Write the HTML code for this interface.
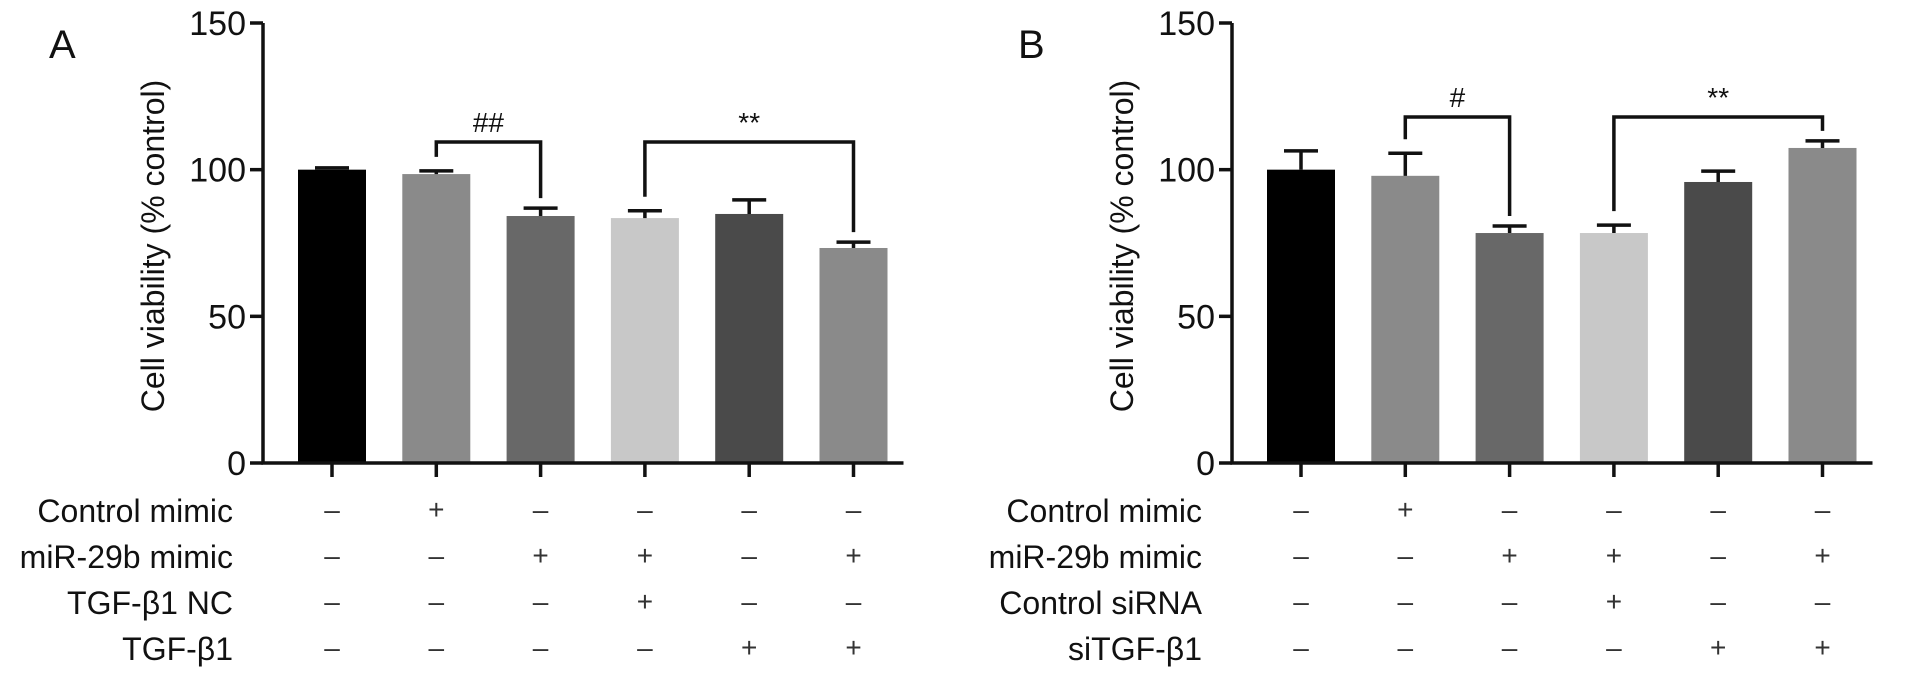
<!DOCTYPE html>
<html><head><meta charset="utf-8"><style>
html,body{margin:0;padding:0;background:#fff;}
svg{display:block;font-family:"Liberation Sans",Arial,sans-serif;}
</style></head><body>
<svg id="fig" width="1913" height="677" viewBox="0 0 1913 677" xmlns="http://www.w3.org/2000/svg"></svg>
<script>
const valuesA = [100, 98.5, 84.2, 83.5, 84.9, 73.3];
const errorsA = [0.6, 1.1, 2.7, 2.5, 4.8, 2.0];
const valuesB = [100, 97.9, 78.4, 78.4, 95.8, 107.4];
const errorsB = [6.4, 7.7, 2.4, 2.7, 3.7, 2.4];
const colors = ['#000000', '#8a8a8a', '#686868', '#c8c8c8', '#4a4a4a', '#8a8a8a'];
const yTicks = [0, 50, 100, 150];
const rowLabelsA = ['Control mimic', 'miR-29b mimic', 'TGF-\u03b21 NC', 'TGF-\u03b21'];
const rowLabelsB = ['Control mimic', 'miR-29b mimic', 'Control siRNA', 'siTGF-\u03b21'];
const rowSigns = [
  ['-', '+', '-', '-', '-', '-'],
  ['-', '-', '+', '+', '-', '+'],
  ['-', '-', '-', '+', '-', '-'],
  ['-', '-', '-', '-', '+', '+']
];
const sigA = [{from:1, to:2, text:'##'}, {from:3, to:5, text:'**'}];
const sigB = [{from:1, to:2, text:'#'}, {from:3, to:5, text:'**'}];

const NS = 'http://www.w3.org/2000/svg';
const svg = document.getElementById('fig');
function mk(tag, attrs, parent) {
  const e = document.createElementNS(NS, tag);
  for (const k in attrs) e.setAttribute(k, attrs[k]);
  (parent || svg).appendChild(e);
  return e;
}
const y0 = 463, yTop = 23, yMax = 150;
function yScale(v) { return y0 - v / yMax * (y0 - yTop); }

function panel(letter, axisX, values, errors, rowLabels, sigs) {
  const g = mk('g', {});
  
  
  const xC = i => axisX + 69 + i * 104.3;
  const L = mk('text', {x: axisX - 214, y: 58, 'font-size': 40, fill: '#111'}, g);
  L.textContent = letter;
  
  
  values.forEach((v, i) => {
    const r = mk('rect', {x: xC(i) - 34, y: yScale(v), width: 68, height: y0 - yScale(v), fill: colors[i]}, g);
    
    
    const e = mk('path', {d: `M${xC(i)} ${yScale(v)}V${yScale(v + errors[i])}M${xC(i) - 17} ${yScale(v + errors[i])}H${xC(i) + 17}`, stroke: '#111', 'stroke-width': 3.5, fill: 'none'}, g);
    
    
  });
  const ax = mk('path', {d: `M${axisX} ${yTop}V${y0}H${xC(5) + 50}`, stroke: '#111', 'stroke-width': 3.5, fill: 'none'}, g);
  
  
  yTicks.forEach(t => {
    const tk = mk('line', {x1: axisX - 13, x2: axisX, y1: yScale(t), y2: yScale(t), stroke: '#111', 'stroke-width': 3.5}, g);
    
    
    const tl = mk('text', {x: axisX - 17, y: yScale(t) + 12, 'font-size': 34, 'text-anchor': 'end', fill: '#111'}, g);
    tl.textContent = t;
    
    
  });
  values.forEach((v, i) => {
    const tk = mk('line', {x1: xC(i), x2: xC(i), y1: y0, y2: y0 + 14, stroke: '#111', 'stroke-width': 3.5}, g);
    
    
  });
  const yl = mk('text', {x: 0, y: 0, 'font-size': 32, 'text-anchor': 'middle', fill: '#111', transform: `translate(${axisX - 99},${246}) rotate(-90)`}, g);
  yl.textContent = 'Cell viability (% control)';
  
  
  sigs.forEach(s => {
    const x1 = xC(s.from), x2 = xC(s.to);
    const hy = letter === 'A' ? 142 : 117;
    const l1 = yScale(values[s.from] + errors[s.from]) - 14;
    const l2 = yScale(values[s.to] + errors[s.to]) - 10;
    const b = mk('path', {d: `M${x1} ${l1}V${hy}H${x2}V${l2}`, stroke: '#111', 'stroke-width': 3.5, fill: 'none'}, g);
    
    
    const st = mk('text', {x: (x1 + x2) / 2, y: hy - 10, 'font-size': 28, 'text-anchor': 'middle', fill: '#111'}, g);
    st.textContent = s.text;
    
    
  });
  rowLabels.forEach((lab, r) => {
    const ry = 510 + r * 46;
    const t = mk('text', {x: axisX - 30, y: ry + 12, 'font-size': 32, 'text-anchor': 'end', fill: '#111'}, g);
    t.textContent = lab;
    
    
    rowSigns[r].forEach((s, i) => {
      const st = mk('text', {x: xC(i), y: ry + 9, 'font-size': 28, 'text-anchor': 'middle', fill: '#333'}, g);
      st.textContent = s === '+' ? '+' : '\u2013';
      
      
    });
  });
}
panel('A', 263, valuesA, errorsA, rowLabelsA, sigA);
panel('B', 1232, valuesB, errorsB, rowLabelsB, sigB);
</script>
</body></html>
